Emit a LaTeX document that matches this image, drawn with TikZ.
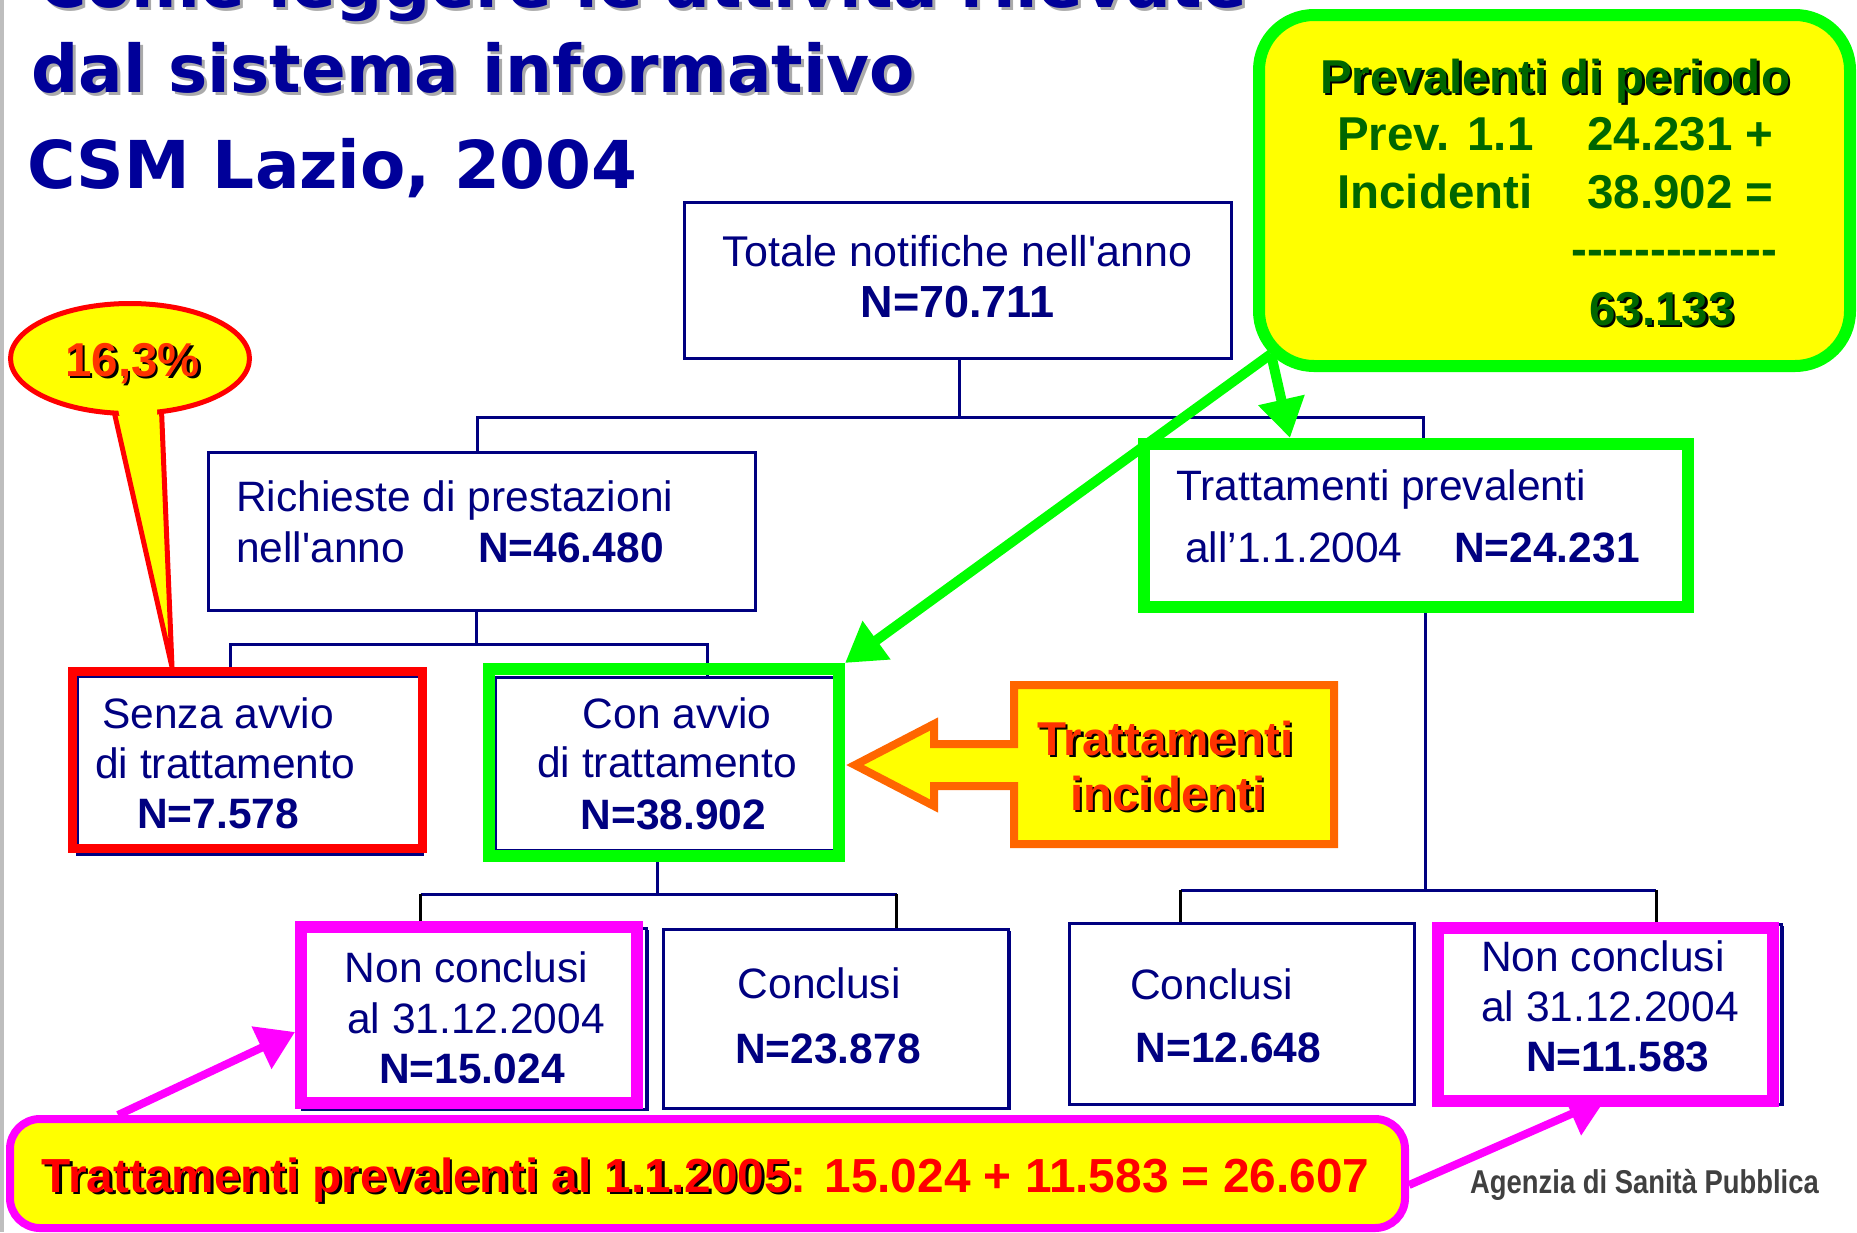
\documentclass[tikz,border=0pt]{standalone}
\usepackage{fontspec}
\setmainfont{Liberation Sans}
\newfontfamily\dejavu{DejaVu Sans}
\usetikzlibrary{arrows.meta,shapes.geometric,shadows}
\pgfdeclarelayer{bg}
\pgfsetlayers{bg,main}
\definecolor{navy}{RGB}{0,0,128}
\definecolor{tblue}{RGB}{0,0,153}
\definecolor{lgreen}{RGB}{0,255,0}
\definecolor{dgreen}{RGB}{0,102,0}
\definecolor{yel}{RGB}{255,255,0}
\definecolor{ored}{RGB}{255,51,0}
\definecolor{oline}{RGB}{255,102,0}
\definecolor{mag}{RGB}{255,0,255}
\definecolor{bred}{RGB}{255,0,0}
\definecolor{shgray}{RGB}{170,170,170}
\definecolor{edgegray}{RGB}{190,190,190}
\definecolor{agray}{RGB}{64,64,64}
\newcommand{\shd}[3]{\leavevmode\rlap{\kern#3\raisebox{-#3}{\textcolor{#2}{#1}}}#1}
\newcommand{\hy}{\mbox{-}}
\begin{document}
\begin{tikzpicture}[x=1pt,y=-1pt,
  bx/.style={draw=navy, line width=3pt, fill=white, inner sep=0pt,
    drop shadow={shadow xshift=2pt, shadow yshift=-2pt, fill=navy, opacity=1}},
  gfr/.style={draw=lgreen, line width=12pt, inner sep=0pt},
  rfr/.style={draw=bred, line width=9pt, inner sep=0pt},
  pfr/.style={draw=mag, line width=12pt, inner sep=0pt},
  conn/.style={draw=navy, line width=3pt},
  dropl/.style={draw=black, line width=3pt},
  txt/.style={anchor=base west, inner sep=0pt, text=navy, font=\fontsize{42.5}{50}\selectfont},
  ctxt/.style={anchor=base, inner sep=0pt, text=navy, font=\fontsize{43}{50}\selectfont},
  num/.style={anchor=base west, inner sep=0pt, text=navy, font=\bfseries\fontsize{42.5}{50}\selectfont},
  ttl/.style={anchor=base west, inner sep=0pt, text=tblue, font=\dejavu\bfseries\fontsize{66}{76}\selectfont},
  gtxt/.style={anchor=base west, inner sep=0pt, text=dgreen, font=\bfseries\fontsize{47.5}{54}\selectfont},
  otxt/.style={anchor=base west, inner sep=0pt, text=ored, font=\bfseries\fontsize{47.5}{54}\selectfont},
  garrow/.style={draw=lgreen, line width=10pt, -{Triangle[length=39pt,width=45pt]}},
  parrow/.style={draw=mag, line width=8pt, -{Triangle[length=37pt,width=45pt]}},
]
\useasboundingbox (0,0) rectangle (1857,1232);

% titles
\node[ttl] (ttl0) at (38,7) {\shd{Come leggere le attività rilevate}{shgray}{3pt}};
\node[ttl] (ttl1) at (31,92) {\shd{dal sistema informativo}{shgray}{3pt}};
\node[ttl] (ttl2) at (27,188) {CSM Lazio, 2004};

% boxes
\node[bx, minimum width=547, minimum height=156] (tot) at (957.5,280) {};
\node[bx, minimum width=547, minimum height=158] (req) at (481.5,531) {};
\node[gfr, fill=white, minimum width=544, minimum height=163] (prev) at (1416,525.5) {};
\node[bx, minimum width=345, minimum height=178] (sen) at (249.5,765) {};
\node[rfr, minimum width=350, minimum height=177] (senr) at (247.5,760) {};
\node[bx, minimum width=338.5, minimum height=173] (con) at (664.75,763.5) {};
\node[gfr, minimum width=350, minimum height=187] (cong) at (664,762.5) {};
\node[bx, minimum width=344.5, minimum height=181] (ncl) at (474.25,1018.5) {};
\node[pfr, minimum width=336, minimum height=176] (nclp) at (469,1014.5) {};
\node[bx, minimum width=345.5, minimum height=179] (clm) at (835.75,1018.5) {};
\node[bx, minimum width=344.4, minimum height=180.3] (clr) at (1241.8,1013.85) {};
\node[bx, minimum width=341.5, minimum height=180] (ncr) at (1610.75,1014) {};
\node[pfr, minimum width=335, minimum height=173.5] (ncrp) at (1605.5,1014.25) {};

% callout: period prevalence
\node[draw=lgreen, fill=yel, line width=12pt, rounded corners=55pt, minimum width=591, minimum height=351, inner sep=0pt] (cbox) at (1554.5,190.5) {};
\coordinate (cs) at ([shift={(18,-18)}]cbox.south west);

% bottom callout
\node[draw=mag, fill=yel, line width=8pt, rounded corners=30pt, minimum width=1395, minimum height=109, inner sep=0pt] (bot) at (707.5,1173.5) {};

% orange arrow callout
\draw[draw=oline, fill=yel, line width=8pt, line join=miter]
  (1334,685) -- (1014,685) -- (1014,744) -- (934,744) -- (934,724) -- (855,765)
  -- (934,806) -- (934,786) -- (1014,786) -- (1014,844) -- (1334,844) -- cycle;

% 16,3% callout
\coordinate (tl1) at (111,398);
\coordinate (tl2) at (161,398);
\coordinate (tt) at ([shift={(-75.5,0)}]senr.north);
\fill[yel] (tl1) -- (tt) -- (tl2) -- cycle;
\draw[bred, line width=5pt, line join=miter] (tl1) -- (tt) -- (tl2);
\node[ellipse, draw=bred, fill=yel, line width=5pt, minimum width=239, minimum height=110, inner sep=0pt] (pct) at (130,358.5) {};
\fill[yel] (115.5,398) -- (156.5,398) -- (157.7,428) -- (122.3,428) -- cycle;

% connectors and arrows (under the boxes)
\begin{pgfonlayer}{bg}
  \fill[white] (0,0) rectangle (1857,1232);
  \fill[edgegray] (0,0) rectangle (4,1232);
  % level 1
  \coordinate (a1) at ([shift={(1.5,0)}]tot.south);
  \coordinate (j1) at ([shift={(1.5,58)}]tot.south);
  \draw[conn] (a1) -- (j1);
  \coordinate (r1) at ([shift={(-4.5,0)}]req.north);
  \coordinate (p1) at ([shift={(7,0)}]prev.north);
  \draw[conn] (r1) |- (j1) -| (p1);
  % level 2
  \coordinate (r2) at ([shift={(-5,0)}]req.south);
  \coordinate (j2) at ([shift={(-5,33)}]req.south);
  \draw[conn] (r2) -- (j2);
  \coordinate (s2) at ([shift={(-19.5,0)}]sen.north);
  \coordinate (c2) at ([shift={(42.25,0)}]con.north);
  \draw[conn] (s2) |- (j2) -| (c2);
  % level 3 left
  \coordinate (c3) at ([shift={(-7,0)}]cong.south);
  \coordinate (j3) at ([shift={(-7,32)}]cong.south);
  \draw[conn] (c3) -- (j3);
  \coordinate (n3) at ([shift={(-53.65,0)}]ncl.north);
  \coordinate (m3) at ([shift={(60.85,0)}]clm.north);
  \draw[conn] (n3 |- j3) -- (m3 |- j3);
  \draw[dropl] (n3 |- j3) -- (n3);
  \draw[dropl] (m3 |- j3) -- (m3);
  % level 3 right
  \coordinate (p4) at ([shift={(9,0)}]prev.south);
  \coordinate (j4) at ([shift={(9,277)}]prev.south);
  \draw[conn] (p4) -- (j4);
  \coordinate (l4) at ([shift={(-61.1,0)}]clr.north);
  \coordinate (q4) at ([shift={(45.25,0)}]ncr.north);
  \draw[conn] (l4 |- j4) -- (q4 |- j4);
  \draw[dropl] (l4 |- j4) -- (l4);
  \draw[dropl] (q4 |- j4) -- (q4);
  % green arrows
  \draw[garrow] (cs) -- (cong.north east);
  \draw[garrow] (cs) -- ([shift={(-126,0)}]prev.north);
  % magenta arrows
  \draw[parrow] ([shift={(-589.5,0)}]bot.north) -- ([shift={(0,17.5)}]nclp.west);
  \draw[parrow] ([shift={(0,11.5)}]bot.east) -- ([shift={(0,-8)}]ncrp.south);
\end{pgfonlayer}

% box texts
\node[ctxt] (tot1) at (957.5,266) {Totale notifiche nell\textquotesingle anno};
\node[ctxt, font=\bfseries\fontsize{45}{50}\selectfont] (tot2) at (957.5,317) {N=70.711};
\node[txt] (req1) at (236,511) {Richieste di prestazioni};
\node[txt] (req2) at (236,562) {nell\textquotesingle anno};
\node[num] (req3) at (478,562) {N=46.480};
\node[txt] (prv1) at (1176,500) {Trattamenti prevalenti};
\node[txt] (prv2) at (1185,562) {all’1.1.2004};
\node[num] (prv3) at (1454,562) {N=24.231};
\node[txt] (sen1) at (102,728) {Senza avvio};
\node[txt] (sen2) at (95,778) {di trattamento};
\node[num] (sen3) at (137,828) {N=7.578};
\node[txt] (con1) at (582.5,728) {Con avvio};
\node[txt] (con2) at (537,777) {di trattamento};
\node[num] (con3) at (580.5,829) {N=38.902};
\node[txt] (ncl1) at (344.5,982) {Non conclusi};
\node[txt] (ncl2) at (347,1033) {al 31.12.2004};
\node[num] (ncl3) at (379,1083) {N=15.024};
\node[txt] (clm1) at (737.5,998) {Conclusi};
\node[num] (clm2) at (735,1063) {N=23.878};
\node[txt] (clr1) at (1130,999.5) {Conclusi};
\node[num] (clr2) at (1135.5,1062) {N=12.648};
\node[txt] (ncr1) at (1481,971) {Non conclusi};
\node[txt] (ncr2) at (1481,1021) {al 31.12.2004};
\node[num] (ncr3) at (1526,1071) {N=11.583};

% callout texts
\node[gtxt] (cb1) at (1320,93) {\shd{Prevalenti di periodo}{black}{2.5pt}};
\node[gtxt] (cb2) at (1337,150) {Prev. 1.1};
\node[gtxt] (cb3) at (1587,150) {24.231 +};
\node[gtxt] (cb4) at (1337,208) {Incidenti};
\node[gtxt] (cb5) at (1587,208) {38.902 =};
\node[gtxt] (cb6) at (1571,265) {\hy\hy\hy\hy\hy\hy\hy\hy\hy\hy\hy\hy\hy};
\node[gtxt] (cb7) at (1589,325) {\shd{63.133}{black}{2.5pt}};
\node[otxt] (pct1) at (65,376) {\shd{16,3\%}{black}{2.5pt}};
\node[otxt] (inc1) at (1037,755) {\shd{Trattamenti}{black}{2.5pt}};
\node[otxt] (inc2) at (1070,810) {\shd{incidenti}{black}{2.5pt}};
\node[anchor=base west, inner sep=0pt, text=bred, font=\bfseries\fontsize{47.8}{54}\selectfont] (btxt) at (41.5,1192) {\shd{Trattamenti prevalenti al 1.1.2005}{black}{2.5pt}: 15.024 + 11.583 = 26.607};
\node[anchor=base west, inner sep=0pt, text=agray, font=\bfseries\fontsize{33}{36}\selectfont] (asp) at (1470,1193) {\scalebox{0.83}[1]{Agenzia di Sanità Pubblica}};
\end{tikzpicture}
\end{document}
